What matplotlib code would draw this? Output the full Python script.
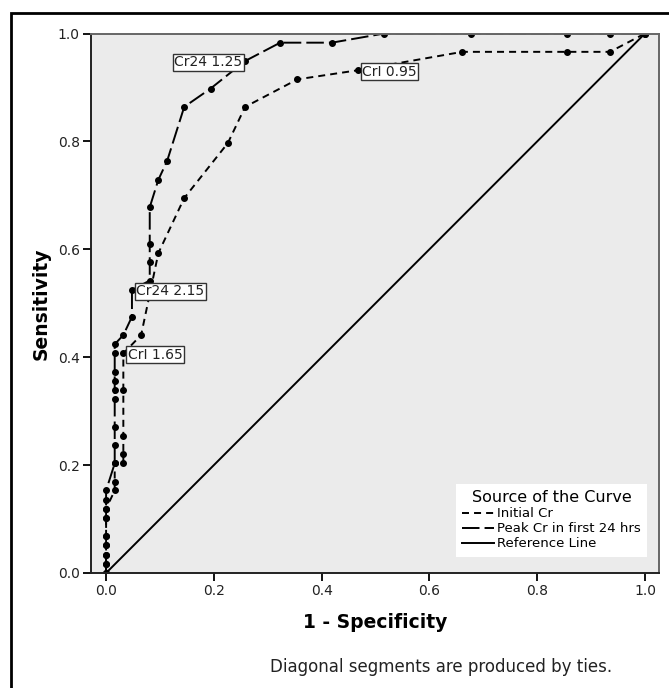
import matplotlib
matplotlib.use("Agg")
import matplotlib.pyplot as plt
from matplotlib.lines import Line2D
from matplotlib.patches import Rectangle

# ROC points (1 - specificity, sensitivity)
peak_fpr = [0.0, 0.0, 0.0, 0.0, 0.0, 0.0, 0.0, 0.0, 0.0, 0.016, 0.016, 0.016,
            0.016, 0.016, 0.016, 0.016, 0.016, 0.016, 0.032, 0.048, 0.048, 0.081,
            0.081, 0.081, 0.081, 0.097, 0.113, 0.145, 0.194, 0.258, 0.323, 0.419,
            0.516, 0.677, 0.855, 0.935, 1.0]
peak_tpr = [0.0, 0.017, 0.034, 0.051, 0.068, 0.102, 0.119, 0.136, 0.153, 0.203, 0.237, 0.271,
            0.322, 0.339, 0.356, 0.373, 0.407, 0.424, 0.441, 0.475, 0.525, 0.542,
            0.576, 0.610, 0.678, 0.729, 0.763, 0.864, 0.898, 0.949, 0.983, 0.983,
            1.0, 1.0, 1.0, 1.0, 1.0]

init_fpr = [0.0, 0.0, 0.0, 0.0, 0.0, 0.0, 0.0, 0.016, 0.016, 0.016, 0.032, 0.032,
            0.032, 0.032, 0.032, 0.065, 0.097, 0.145, 0.226, 0.258, 0.355, 0.468,
            0.661, 0.855, 0.935, 1.0]
init_tpr = [0.0, 0.017, 0.034, 0.051, 0.068, 0.102, 0.119, 0.153, 0.169, 0.203, 0.203, 0.220,
            0.254, 0.339, 0.407, 0.441, 0.593, 0.695, 0.797, 0.864, 0.915, 0.932,
            0.966, 0.966, 0.966, 1.0]

# cut-off labels: text, x, y, side
cut_labels = ["Cr24 1.25", "CrI 0.95", "Cr24 2.15", "CrI 1.65"]
cut_x = [0.258, 0.468, 0.048, 0.032]
cut_y = [0.949, 0.932, 0.525, 0.407]
cut_side = ["right", "left", "left", "left"]

plt.rcParams['font.family'] = ['DejaVu Sans']

fig = plt.figure(figsize=(6.69, 6.88), dpi=100)
ax = fig.add_axes([91/669, 1 - 573/688, 568/669, 539.5/688])
ax.set_facecolor('#ebebeb')

lw = 1.4
ax.plot(init_fpr, init_tpr, color='black', lw=lw, dashes=(3.6, 2.6),
        marker='o', markersize=4)
ax.plot(peak_fpr, peak_tpr, color='black', lw=lw, dashes=(9, 2.6),
        marker='o', markersize=4)
ax.plot([0, 1], [0, 1], color='black', lw=lw)

for txt, x, y, side in zip(cut_labels, cut_x, cut_y, cut_side):
    ax.annotate(txt, (x, y), xytext=(-2 if side == "right" else 3, -1),
                textcoords='offset points', ha=side, va='center', fontsize=10,
                color='#222222',
                bbox=dict(boxstyle='square,pad=0.1', fc='white', ec='#333333', lw=1))

ax.set_xlim(-0.028, 1.026)
ax.set_ylim(0, 1)
ax.set_xticks([0, 0.2, 0.4, 0.6, 0.8, 1.0])
ax.set_yticks([0, 0.2, 0.4, 0.6, 0.8, 1.0])
ax.set_xticklabels(["0.0", "0.2", "0.4", "0.6", "0.8", "1.0"])
ax.set_yticklabels(["0.0", "0.2", "0.4", "0.6", "0.8", "1.0"])
ax.tick_params(direction='out', length=6, width=1.3, labelsize=10,
               labelcolor='#222222', pad=2)
for side in ['left', 'bottom']:
    ax.spines[side].set_linewidth(1.4)
    ax.spines[side].set_color('#222222')
for side in ['top', 'right']:
    ax.spines[side].set_linewidth(1.4)
    ax.spines[side].set_color('#666666')

ax.set_xlabel("1 - Specificity", fontsize=13.5, fontweight='bold', labelpad=11)
ax.set_ylabel("Sensitivity", fontsize=13.5, fontweight='bold', labelpad=5)

handles = [Line2D([], [], color='black', lw=lw, dashes=(3.6, 2.6)),
           Line2D([], [], color='black', lw=lw, dashes=(9, 2.6)),
           Line2D([], [], color='black', lw=lw)]
leg = ax.legend(handles, ["Initial Cr", "Peak Cr in first 24 hrs", "Reference Line"],
                title="Source of the Curve", loc='lower right',
                bbox_to_anchor=(0.979, 0.03), borderaxespad=0, fontsize=9.5,
                title_fontsize=11.5, frameon=True, fancybox=False, framealpha=1,
                edgecolor='white', handlelength=2.4, handletextpad=0.2,
                labelspacing=0.15, borderpad=0.5)
leg.get_frame().set_linewidth(0)

fig.text(441/669, 1 - 667/688, "Diagonal segments are produced by ties.",
         ha='center', va='center', fontsize=12, color='#222222')

# outer frame (cut by the image's right and bottom edges)
fig.patches.append(Rectangle((10.7/669, -0.1), 1.0, 1 - 13.3/688 + 0.1,
                             transform=fig.transFigure, fill=False,
                             ec='black', lw=2))

fig.savefig("out.png", dpi=100)
